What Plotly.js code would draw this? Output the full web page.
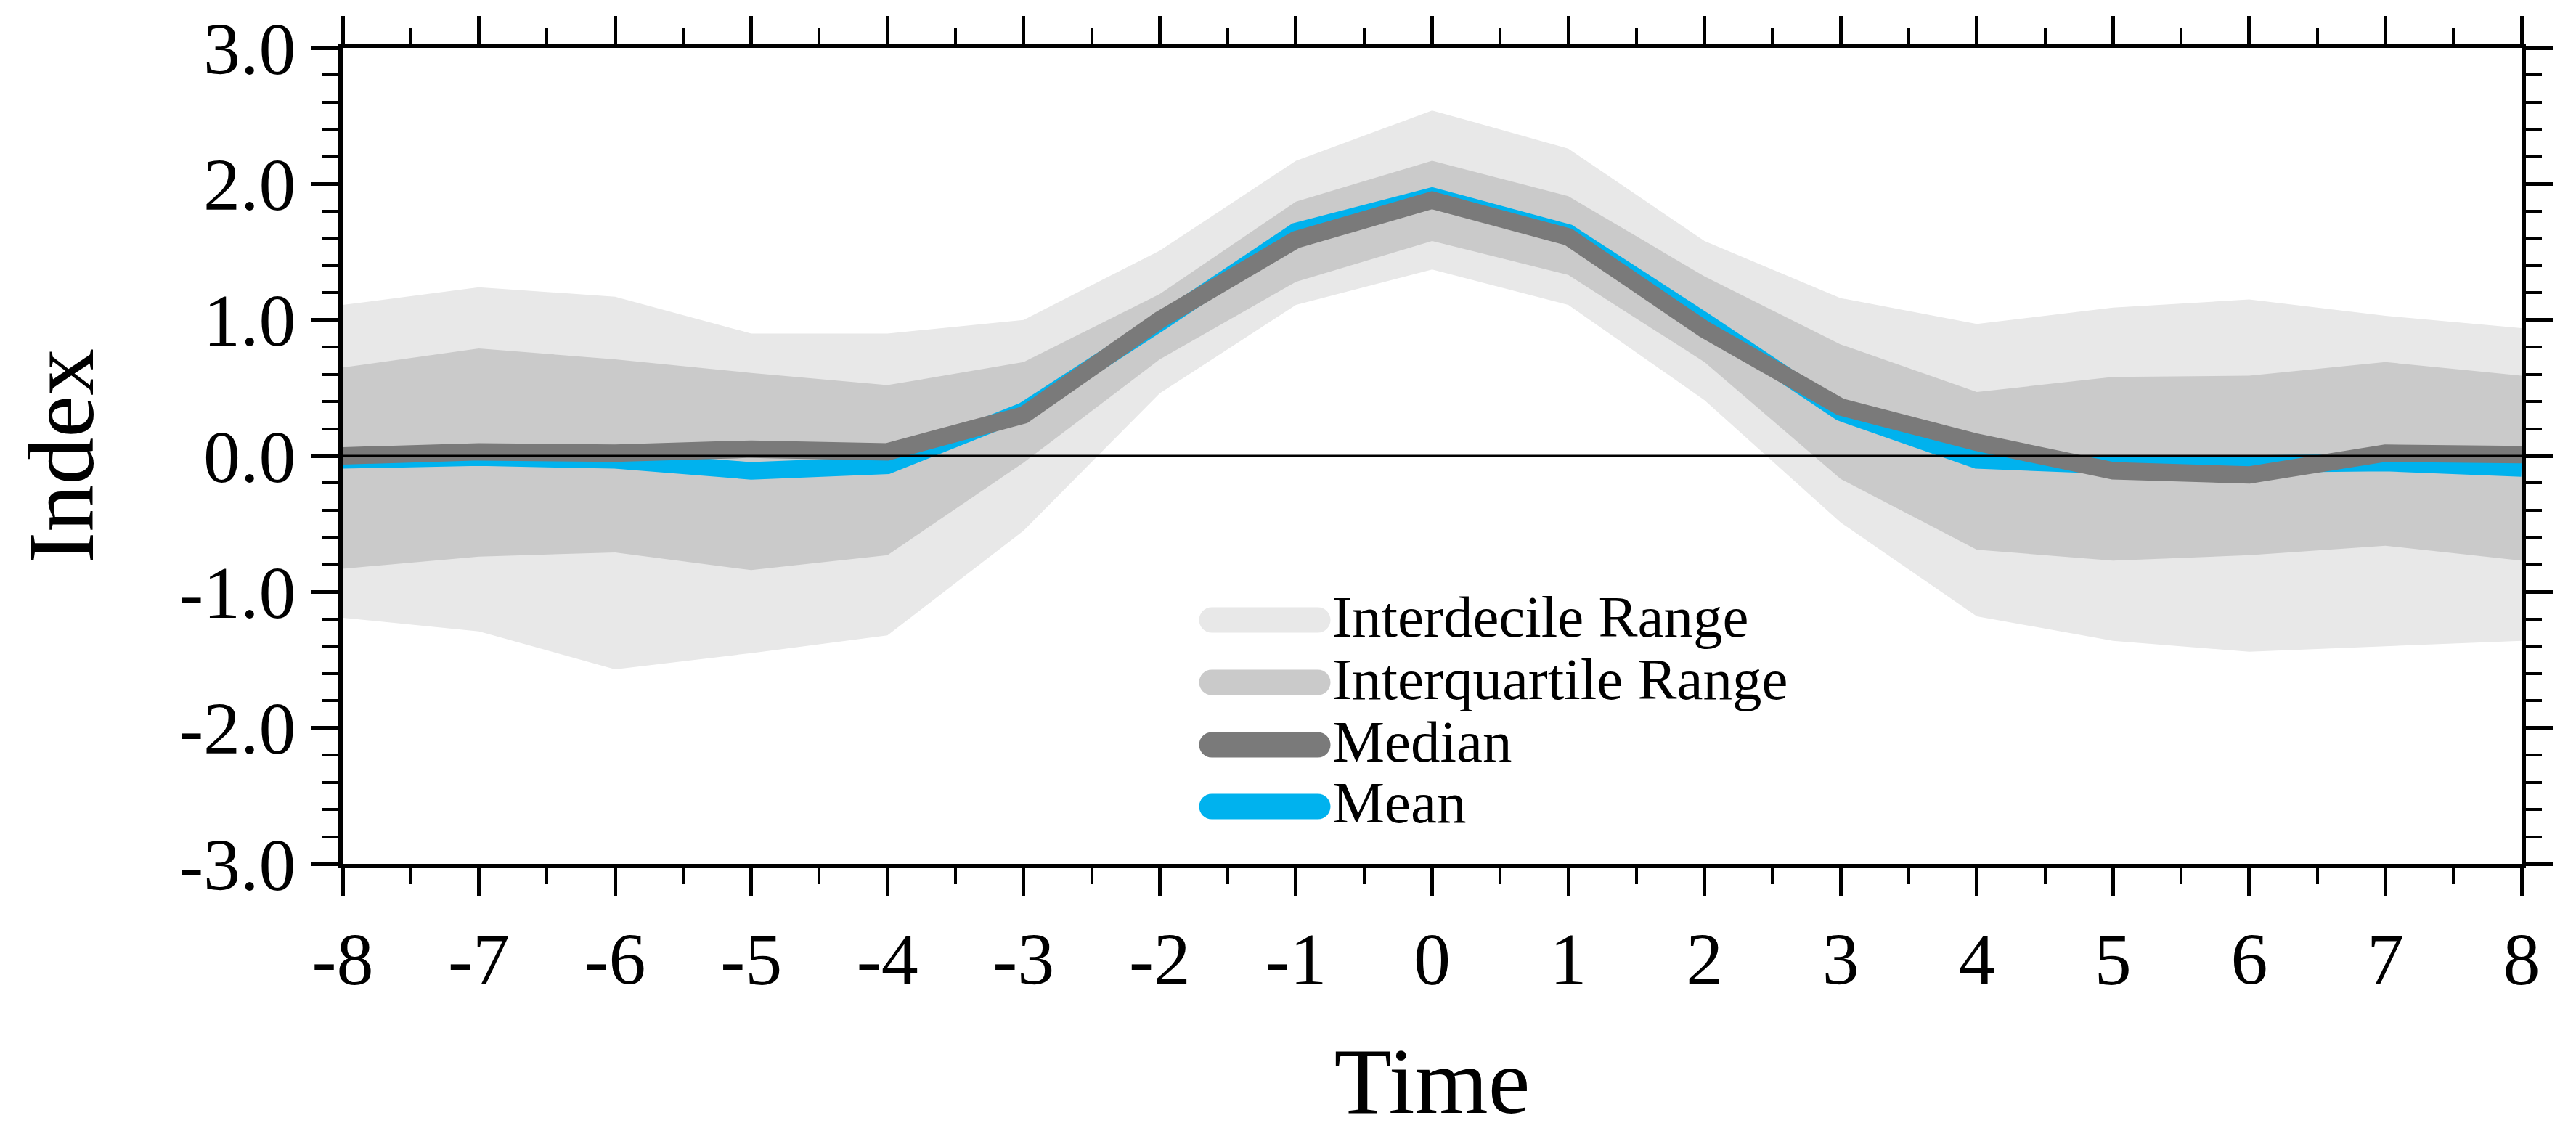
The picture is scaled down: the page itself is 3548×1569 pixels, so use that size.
<!DOCTYPE html>
<html>
<head>
<meta charset="utf-8">
<script src="https://cdn.plot.ly/plotly-3.0.1.min.js"></script>
<style>
html, body { margin: 0; padding: 0; background: #ffffff; }
#chart { width: 3548px; height: 1569px; }
</style>
</head>
<body>
<div id="chart"></div>
<script>
// ---- data ----
var time = [-8, -7, -6, -5, -4, -3, -2, -1, 0, 1, 2, 3, 4, 5, 6, 7, 8];
var decileHigh = [1.11, 1.24, 1.17, 0.90, 0.90, 1.00, 1.51, 2.17, 2.54, 2.26, 1.58, 1.16, 0.97, 1.09, 1.15, 1.03, 0.94];
var decileLow = [-1.19, -1.29, -1.57, -1.45, -1.32, -0.55, 0.46, 1.11, 1.37, 1.11, 0.41, -0.49, -1.18, -1.36, -1.44, -1.40, -1.36];
var quartileHigh = [0.65, 0.79, 0.71, 0.61, 0.52, 0.69, 1.19, 1.87, 2.17, 1.91, 1.32, 0.82, 0.47, 0.58, 0.59, 0.69, 0.59];
var quartileLow = [-0.83, -0.74, -0.71, -0.84, -0.73, -0.05, 0.71, 1.28, 1.58, 1.33, 0.69, -0.17, -0.69, -0.77, -0.73, -0.66, -0.77];
var medianVals = [0.00, 0.03, 0.02, 0.05, 0.03, 0.30, 1.00, 1.59, 1.88, 1.61, 0.93, 0.36, 0.10, -0.11, -0.14, 0.02, 0.01];
var meanVals = [-0.03, -0.01, -0.03, -0.11, -0.07, 0.33, 0.98, 1.65, 1.91, 1.64, 0.99, 0.32, -0.03, -0.07, -0.06, -0.05, -0.09];
var legendLabels = ['Interdecile Range', 'Interquartile Range', 'Median', 'Mean'];
var xTickVals = [-8, -7, -6, -5, -4, -3, -2, -1, 0, 1, 2, 3, 4, 5, 6, 7, 8];
var yTickVals = [-3, -2, -1, 0, 1, 2, 3];

// ---- styles ----
var cDecile = '#E8E8E8';
var cQuart = '#CACACA';
var cMedian = '#7A7A7A';
var cMean = '#00B2EE';
var legendColors = [cDecile, cQuart, cMedian, cMean];
var FONT = 'Liberation Serif, Times New Roman, serif';

var traces = [
  { x: time, y: decileLow, type: 'scatter', mode: 'lines', line: { width: 0, color: cDecile }, showlegend: false, hoverinfo: 'skip' },
  { x: time, y: decileHigh, type: 'scatter', mode: 'lines', fill: 'tonexty', fillcolor: cDecile, line: { width: 0, color: cDecile }, name: legendLabels[0], showlegend: false },
  { x: time, y: quartileLow, type: 'scatter', mode: 'lines', line: { width: 0, color: cQuart }, showlegend: false, hoverinfo: 'skip' },
  { x: time, y: quartileHigh, type: 'scatter', mode: 'lines', fill: 'tonexty', fillcolor: cQuart, line: { width: 0, color: cQuart }, name: legendLabels[1], showlegend: false },
  { x: time, y: meanVals, type: 'scatter', mode: 'lines', line: { width: 24, color: cMean }, name: legendLabels[3], showlegend: false },
  { x: time, y: medianVals, type: 'scatter', mode: 'lines', line: { width: 24, color: cMedian }, name: legendLabels[2], showlegend: false }
];

// legend drawn as capsule swatches + text
var swatchX = 0.4232;
var textX = 0.4535;
var rowY = [0.2989, 0.2224, 0.1459, 0.0703];
var capsule = 'M-73,-17.5 L73,-17.5 C82.67,-17.5 90.5,-9.67 90.5,0 C90.5,9.67 82.67,17.5 73,17.5 L-73,17.5 C-82.67,17.5 -90.5,9.67 -90.5,0 C-90.5,-9.67 -82.67,-17.5 -73,-17.5 Z';
var shapes = [
  { type: 'line', xref: 'paper', x0: 0, x1: 1, yref: 'y', y0: 0, y1: 0, line: { color: '#000000', width: 3 }, layer: 'above' }
];
var annotations = [];
for (var i = 0; i < legendLabels.length; i++) {
  shapes.push({
    type: 'path', xref: 'paper', yref: 'paper',
    xsizemode: 'pixel', ysizemode: 'pixel',
    xanchor: swatchX, yanchor: rowY[i],
    path: capsule, fillcolor: legendColors[i], line: { width: 0 }, layer: 'above'
  });
  annotations.push({
    xref: 'paper', yref: 'paper', x: textX, y: rowY[i] + 0.004,
    xanchor: 'left', yanchor: 'middle', showarrow: false,
    text: legendLabels[i], font: { family: FONT, size: 81, color: '#000000' }
  });
}

var axisCommon = {
  showline: true, linewidth: 6, linecolor: '#000000', mirror: 'ticks',
  ticks: 'outside', ticklen: 38, tickwidth: 5, tickcolor: '#000000',
  showgrid: false, zeroline: false,
  tickfont: { family: FONT, size: 102, color: '#000000' },
  layer: 'above traces', fixedrange: true
};

var layout = {
  width: 3548, height: 1569,
  margin: { l: 472, r: 75, t: 66, b: 379, pad: 0 },
  paper_bgcolor: '#ffffff', plot_bgcolor: '#ffffff',
  showlegend: false,
  font: { family: FONT, color: '#000000' },
  xaxis: Object.assign({}, axisCommon, {
    range: [-8, 8], tickmode: 'array', tickvals: xTickVals,
    ticktext: xTickVals.map(function (v) { return String(v); }),
    minor: { dtick: 0.5, tick0: 0, ticks: 'outside', ticklen: 22, tickwidth: 4, tickcolor: '#000000' },
    title: { text: 'Time', font: { family: FONT, size: 130, color: '#000000' }, standoff: 67 },
    automargin: false
  }),
  yaxis: Object.assign({}, axisCommon, {
    range: [-3, 3], tickmode: 'array', tickvals: yTickVals,
    ticktext: yTickVals.map(function (v) { return v.toFixed(1); }),
    minor: { dtick: 0.2, tick0: 0, ticks: 'outside', ticklen: 22, tickwidth: 4, tickcolor: '#000000' },
    title: { text: 'Index', font: { family: FONT, size: 130, color: '#000000' }, standoff: 76 },
    automargin: false
  }),
  shapes: shapes,
  annotations: annotations
};

Plotly.newPlot('chart', traces, layout, { staticPlot: true, displayModeBar: false });
</script>
</body>
</html>
